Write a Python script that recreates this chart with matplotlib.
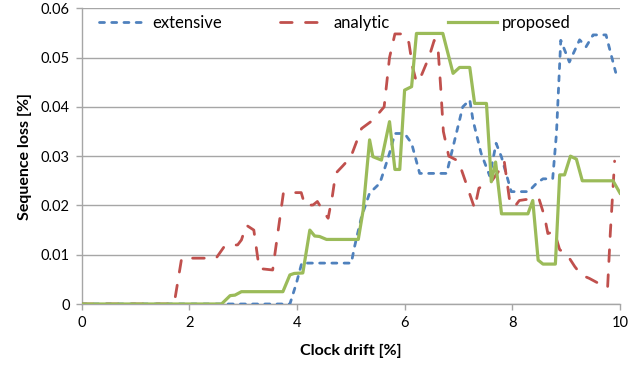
import matplotlib
matplotlib.use("Agg")
import matplotlib.pyplot as plt

# ---- data ----
ext_x = [0, 3.87, 3.99, 4.09, 5.01, 5.07, 5.2, 5.35, 5.54, 5.63, 5.72, 5.82, 6.0, 6.13, 6.28,
         6.78, 6.9, 7.08, 7.21, 7.27, 7.42, 7.58, 7.7, 7.8, 7.98, 8.3, 8.45, 8.57, 8.75, 8.82,
         8.9, 9.06, 9.25, 9.37, 9.5, 9.74, 9.92]
ext_y = [0, 0, 0.0042, 0.0083, 0.0083, 0.0116, 0.0177, 0.0225, 0.0245, 0.0275, 0.0306, 0.0346,
         0.0346, 0.0326, 0.0265, 0.0265, 0.0319, 0.0400, 0.0414, 0.0373, 0.0306, 0.0260, 0.0326,
         0.0298, 0.0228, 0.0228, 0.0245, 0.0254, 0.0254, 0.0346, 0.0535, 0.0491, 0.0536, 0.0522,
         0.0546, 0.0546, 0.0470]

ana_x = [0, 1.72, 1.86, 2.5, 2.66, 2.9, 2.97, 3.06, 3.2, 3.3, 3.55, 3.75, 4.08, 4.15, 4.3, 4.38,
         4.48, 4.58, 4.66, 4.72, 4.85, 5.0, 5.2, 5.41, 5.62, 5.72, 5.82, 6.0, 6.08, 6.15, 6.22,
         6.32, 6.45, 6.55, 6.62, 6.67, 6.72, 6.82, 7.0, 7.12, 7.3, 7.38, 7.5, 7.62, 7.75, 7.85,
         7.95, 8.04, 8.13, 8.25, 8.5, 8.6, 8.66, 8.78, 8.88, 9.0, 9.16, 9.28, 9.43, 9.6, 9.68,
         9.77, 9.82, 9.9]
ana_y = [0, 0, 0.0093, 0.0093, 0.0118, 0.0120, 0.0130, 0.0160, 0.0150, 0.0072, 0.0069, 0.0226,
         0.0226, 0.0200, 0.0201, 0.0208, 0.0190, 0.0174, 0.0220, 0.0265, 0.0280, 0.0298, 0.0356,
         0.0373, 0.0400, 0.0500, 0.0548, 0.0548, 0.0530, 0.0480, 0.0450, 0.0466, 0.0500, 0.0535,
         0.0520, 0.0440, 0.0350, 0.0300, 0.0290, 0.0252, 0.0194, 0.0235, 0.0242, 0.0250, 0.0270,
         0.0290, 0.0210, 0.0197, 0.0210, 0.0212, 0.0212, 0.0177, 0.0143, 0.0147, 0.0110, 0.0103,
         0.0076, 0.0059, 0.0052, 0.0042, 0.0034, 0.0034, 0.0144, 0.0290]

pro_x = [0, 2.6, 2.76, 2.85, 2.97, 3.74, 3.87, 3.95, 4.11, 4.24, 4.33, 4.42, 4.55, 5.14, 5.23,
         5.35, 5.41, 5.57, 5.72, 5.82, 5.91, 6.0, 6.13, 6.22, 6.71, 6.9, 7.02, 7.21, 7.3, 7.52,
         7.61, 7.69, 7.8, 8.29, 8.38, 8.48, 8.57, 8.8, 8.88, 8.97, 9.08, 9.19, 9.3, 9.87, 10.0]
pro_y = [0, 0, 0.0017, 0.0018, 0.0025, 0.0025, 0.0059, 0.0062, 0.0063, 0.0150, 0.0138, 0.0137,
         0.0131, 0.0131, 0.0190, 0.0333, 0.0299, 0.0292, 0.0370, 0.0273, 0.0273, 0.0434, 0.0441,
         0.0549, 0.0549, 0.0468, 0.0480, 0.0480, 0.0407, 0.0407, 0.0248, 0.0288, 0.0183, 0.0183,
         0.0210, 0.0089, 0.0081, 0.0081, 0.0262, 0.0262, 0.0300, 0.0294, 0.0250, 0.0250, 0.0225]

series_names = ["extensive", "analytic", "proposed"]
x_ticks = [0, 2, 4, 6, 8, 10]
y_ticks = [0, 0.01, 0.02, 0.03, 0.04, 0.05, 0.06]
y_tick_labels = ["0", "0.01", "0.02", "0.03", "0.04", "0.05", "0.06"]
x_label = "Clock drift [%]"
y_label = "Sequence loss [%]"

plt.rcParams['font.family'] = ['Lato', 'DejaVu Sans']

fig = plt.figure(figsize=(6.3, 3.72), dpi=100)
ax = fig.add_axes([81.5/630, 1 - 304/372, (620 - 81.5)/630, (304 - 8.3)/372])

blue = "#4F81BD"
red = "#C0504D"
green = "#9BBB59"

ax.plot(ext_x, ext_y, color=blue, lw=2.0, dashes=(1.8, 2.6), dash_capstyle='round',
        label=series_names[0], zorder=3)
ax.plot(ana_x, ana_y, color=red, lw=2.0, dashes=(4.2, 4.8), dash_capstyle='round',
        label=series_names[1], zorder=3)
ax.plot(pro_x, pro_y, color=green, lw=2.3, solid_joinstyle='round',
        label=series_names[2], zorder=4)

ax.set_xlim(0, 10)
ax.set_ylim(0, 0.06)
ax.set_xticks(x_ticks)
ax.set_xticklabels([str(t) for t in x_ticks])
ax.set_yticks(y_ticks)
ax.set_yticklabels(y_tick_labels)

grid_c = "#A6A6A6"
ax.grid(axis='y', color=grid_c, lw=1.0)
ax.set_axisbelow(True)
for s in ['top', 'right']:
    ax.spines[s].set_visible(False)
for s in ['left', 'bottom']:
    ax.spines[s].set_color(grid_c)
    ax.spines[s].set_linewidth(1.0)
ax.tick_params(axis='both', direction='out', length=4.5, width=1.0, color=grid_c,
               labelsize=10.5, labelcolor='black', pad=4)

ax.set_xlabel(x_label, fontsize=11.5, fontweight='bold', labelpad=10)
ax.set_ylabel(y_label, fontsize=11.5, fontweight='bold', labelpad=6)

leg = ax.legend(loc='center left', bbox_to_anchor=((99 - 81.5)/538.5, 1 - 14.5/295.7), ncol=3,
                frameon=False, fontsize=12, handlelength=2.9, handletextpad=0.3,
                columnspacing=3.5, borderaxespad=0.0, borderpad=0.0)

fig.savefig("out.png", dpi=100)
